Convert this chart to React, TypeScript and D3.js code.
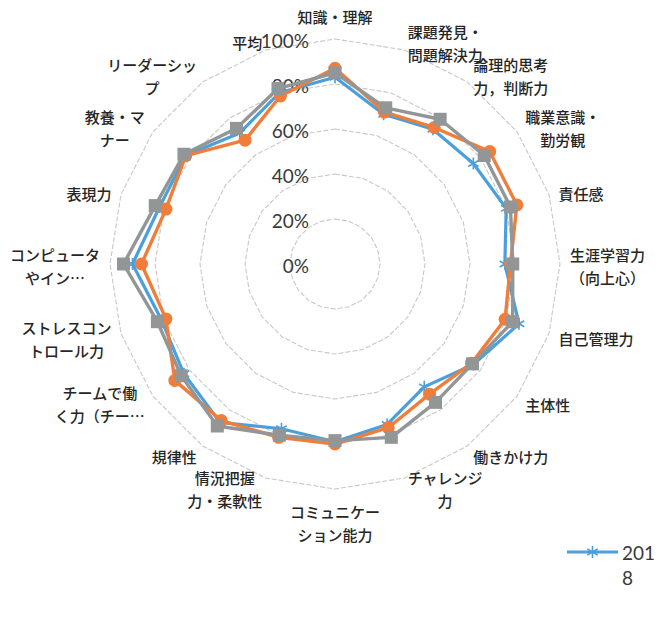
import * as d3 from "d3";
import { useEffect, useRef } from "react";

// axis labels, clockwise from the top ("\n" = line break as in the source)
const categories = [
  "知識・理解",
  "課題発見・\n問題解決力",
  "論理的思考\n力，判断力",
  "職業意識・\n勤労観",
  "責任感",
  "生涯学習力\n（向上心）",
  "自己管理力",
  "主体性",
  "働きかけ力",
  "チャレンジ\n力",
  "コミュニケー\nション能力",
  "情況把握\n力・柔軟性",
  "規律性",
  "チームで働\nく力（チー…",
  "ストレスコン\nトロール力",
  "コンピュータ\nやイン…",
  "表現力",
  "教養・マ\nナー",
  "リーダーシッ\nプ",
  "平均",
];

// values in %
const values2018 = [83, 70, 74, 76, 80, 75.5, 86, 76, 67.5, 75, 79, 77, 87, 83, 81, 90, 82, 82, 72, 80];
const values2019 = [87, 71, 75, 85, 85, 78, 79.5, 75, 71.5, 76.5, 80, 81, 86, 88, 79, 86, 79, 82, 68, 78.5];
const values2020 = [85, 73, 79.5, 82, 82, 79, 83, 75.5, 76, 81, 78.5, 80, 89, 84.5, 83, 94, 84, 83, 74.5, 82];

const tickValues = [0, 20, 40, 60, 80, 100];
const tickLabels = ["0%", "20%", "40%", "60%", "80%", "100%"];

const W = 669;
const H = 619;
const cx = 335;
const cy = 264;
const outerR = 225;

const BLUE = "#4a9fdc";
const ORANGE = "#f07d3a";
const GRAY = "#939696";

const asteriskPath = (s: number) =>
  `M0,${-s}L0,${s}M${-s * 0.87},${-s * 0.5}L${s * 0.87},${s * 0.5}M${-s * 0.87},${s * 0.5}L${s * 0.87},${-s * 0.5}`;

export default function App() {
  const svgRef = useRef<SVGSVGElement | null>(null);

  useEffect(() => {
    if (!svgRef.current) return;
    const svg = d3.select(svgRef.current);
    svg.selectAll("*").remove();

    const n = categories.length;
    const r = d3.scaleLinear().domain([0, 100]).range([0, outerR]);
    const angle = (i: number) => (i * 2 * Math.PI) / n;

    const g = svg.append("g").attr("transform", `translate(${cx},${cy})`);

    // grid polygons
    const gridLine = d3
      .lineRadial<number>()
      .angle((_, i) => angle(i))
      .radius((d) => r(d))
      .curve(d3.curveLinearClosed);

    tickValues.slice(1).forEach((t) => {
      g.append("path")
        .attr("d", gridLine(d3.range(n).map(() => t)))
        .attr("fill", "none")
        .attr("stroke", "#c8c8c8")
        .attr("stroke-width", 1.1)
        .attr("stroke-dasharray", "5 2");
    });

    // tick labels
    g.selectAll(".tick")
      .data(tickValues)
      .enter()
      .append("text")
      .attr("x", -26)
      .attr("y", (d) => -r(d) + 1)
      .attr("text-anchor", "end")
      .attr("dominant-baseline", "central")
      .attr("font-family", "Lato, 'Open Sans', sans-serif")
      .attr("font-size", 19)
      .attr("fill", "#3a3a3a")
      .text((_, i) => tickLabels[i]);

    // category labels
    const labelR = 235;
    const lineH = 23;
    categories.forEach((label, i) => {
      const a = angle(i);
      const sin = Math.sin(a);
      const cos = Math.cos(a);
      const ax = labelR * sin;
      const ay = -labelR * cos;
      const lines = label.split("\n");
      const lg = g.append("g");
      const text = lg
        .append("text")
        .attr("text-anchor", "middle")
        .attr("font-family", "'Noto Sans CJK JP', sans-serif")
        .attr("font-size", 15)
        .attr("font-weight", 500)
        .attr("fill", "#252525");
      lines.forEach((line, k) => {
        text
          .append("tspan")
          .attr("x", 0)
          .attr("y", (k - (lines.length - 1) / 2) * lineH)
          .attr("dominant-baseline", "central")
          .text(line);
      });
      const w = (text.node() as SVGTextElement).getBBox().width;
      const h = lines.length * lineH;
      let px = ax;
      let py = ay + 2;
      if (Math.abs(sin) < 0.01) {
        py = ay + (cos > 0 ? -(h / 2 + 1) : h / 2 + 1);
      } else {
        px = ax + Math.sign(sin) * (w / 2);
      }
      lg.attr("transform", `translate(${px},${py})`);
    });

    // series
    const seriesLine = d3
      .lineRadial<number>()
      .angle((_, i) => angle(i))
      .radius((d) => r(d))
      .curve(d3.curveLinearClosed);

    const pos = (d: number, i: number) => [r(d) * Math.sin(angle(i)), -r(d) * Math.cos(angle(i))];

    // 2018 - blue, asterisks
    g.append("path")
      .attr("d", seriesLine(values2018))
      .attr("fill", "none")
      .attr("stroke", BLUE)
      .attr("stroke-width", 3.2)
      .attr("stroke-linejoin", "round");
    g.selectAll(".m18")
      .data(values2018)
      .enter()
      .append("path")
      .attr("transform", (d, i) => `translate(${pos(d, i).join(",")})`)
      .attr("d", asteriskPath(6))
      .attr("stroke", BLUE)
      .attr("stroke-width", 1.6)
      .attr("fill", "none");

    // orange, circles
    g.append("path")
      .attr("d", seriesLine(values2019))
      .attr("fill", "none")
      .attr("stroke", ORANGE)
      .attr("stroke-width", 3.4)
      .attr("stroke-linejoin", "round");
    g.selectAll(".m19")
      .data(values2019)
      .enter()
      .append("circle")
      .attr("cx", (d, i) => pos(d, i)[0])
      .attr("cy", (d, i) => pos(d, i)[1])
      .attr("r", 6.5)
      .attr("fill", ORANGE);

    // gray, squares
    g.append("path")
      .attr("d", seriesLine(values2020))
      .attr("fill", "none")
      .attr("stroke", GRAY)
      .attr("stroke-width", 3.4)
      .attr("stroke-linejoin", "round");
    g.selectAll(".m20")
      .data(values2020)
      .enter()
      .append("rect")
      .attr("x", (d, i) => pos(d, i)[0] - 6.5)
      .attr("y", (d, i) => pos(d, i)[1] - 6.5)
      .attr("width", 13)
      .attr("height", 13)
      .attr("fill", GRAY);

    // legend (only the first entry is visible in the source)
    const lgd = svg.append("g").attr("transform", "translate(567,552)");
    lgd.append("line")
      .attr("x1", 0)
      .attr("x2", 51)
      .attr("y1", 0)
      .attr("y2", 0)
      .attr("stroke", BLUE)
      .attr("stroke-width", 3.2);
    lgd.append("path")
      .attr("transform", "translate(25.5,0)")
      .attr("d", asteriskPath(6))
      .attr("stroke", BLUE)
      .attr("stroke-width", 1.6)
      .attr("fill", "none");
    const lt = lgd.append("text")
      .attr("font-family", "Lato, 'Open Sans', sans-serif")
      .attr("font-size", 19)
      .attr("fill", "#3a3a3a");
    lt.append("tspan").attr("x", 55).attr("y", 0).attr("dominant-baseline", "central").text("201");
    lt.append("tspan").attr("x", 55).attr("y", 25).attr("dominant-baseline", "central").text("8");
  }, []);

  return (
    <div style={{ position: "absolute", left: 0, top: 0 }}>
      <svg ref={svgRef} width={W} height={H} style={{ display: "block", background: "#fff" }} />
    </div>
  );
}
